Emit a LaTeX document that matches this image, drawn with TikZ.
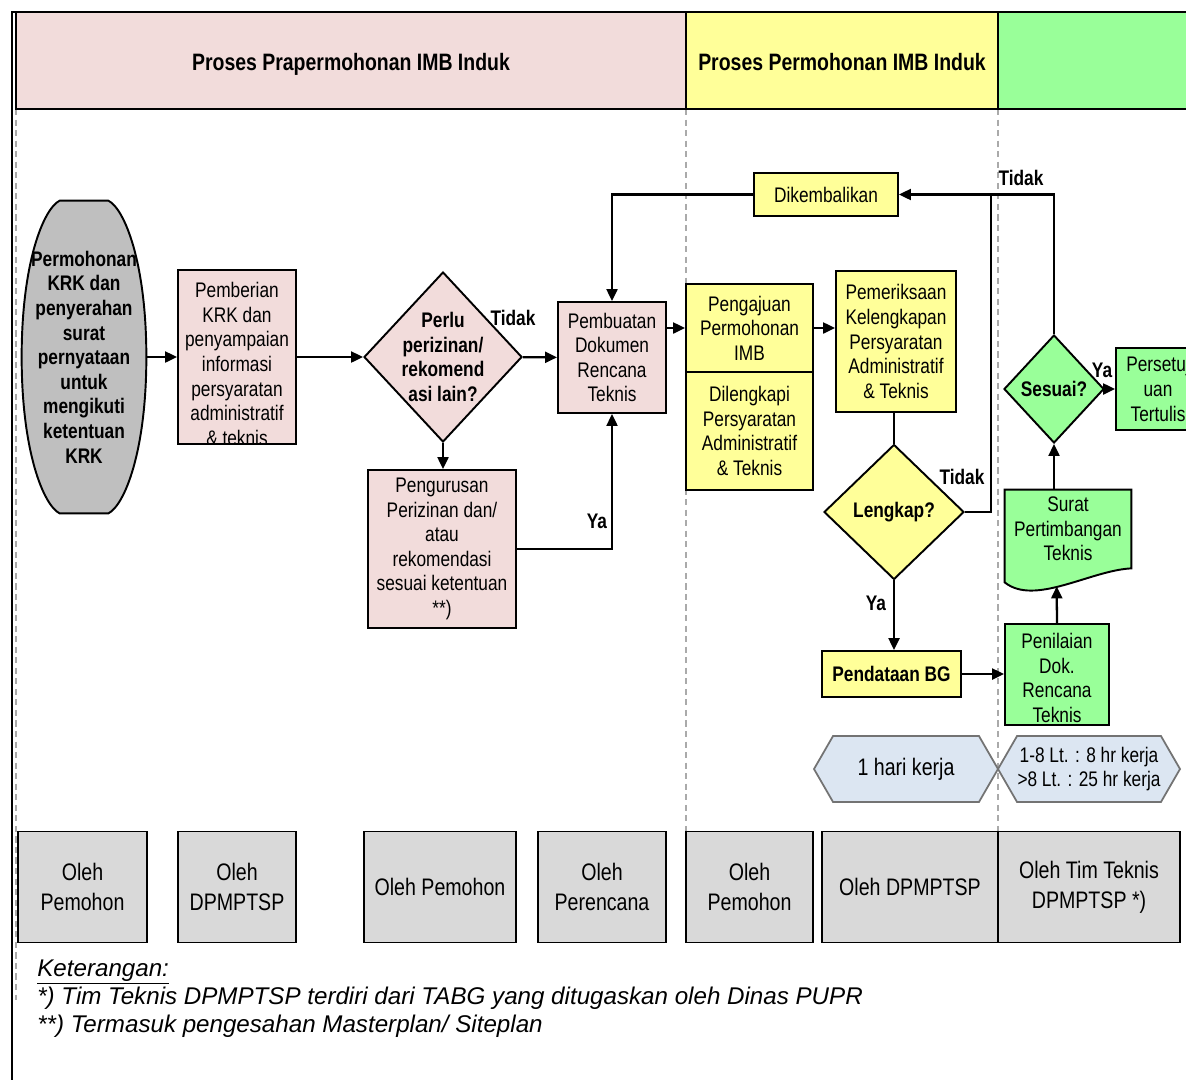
\documentclass[tikz,border=0pt]{standalone}
\usepackage{fontspec}
\setmainfont{Liberation Sans}[FakeStretch=0.82]
\newfontfamily\ketfont{Liberation Sans}
\usepackage{tikz}
\usetikzlibrary{shapes.geometric,shapes.symbols,arrows.meta,positioning,calc,backgrounds}
\definecolor{pra}{RGB}{242,220,219}
\definecolor{imb}{RGB}{255,255,153}
\definecolor{tek}{RGB}{153,255,153}
\definecolor{term}{RGB}{191,191,191}
\definecolor{oleh}{RGB}{217,217,217}
\definecolor{hari}{RGB}{220,230,242}
\definecolor{lanegray}{RGB}{170,170,170}
\tikzset{
  sz/.style 2 args={minimum width=#1*0.02cm,minimum height=#2*0.02cm},
  box/.style={draw,line width=1.1pt,align=center,inner sep=0pt},
  dec/.style={draw,diamond,line width=1.1pt,inner sep=0pt},
  hdr/.style={draw,line width=1.1pt,inner sep=0pt,text height=11.4pt,text depth=0pt,font=\fontsize{13.5}{16}\selectfont\bfseries},
  actor/.style={box,fill=oleh,font=\fontsize{13.6}{17}\selectfont},
  hexa/.style={draw=black!55,fill=hari,line width=1pt,signal,signal to=east and west,signal pointer angle=120,align=center,inner sep=0pt},
  arr/.style={line width=1.3pt,-{Triangle[length=2.4mm,width=2.2mm]}},
  lnk/.style={line width=1.3pt},
  lbl/.style={font=\bfseries,inner sep=0pt},
  lanedash/.style={draw=lanegray,line width=0.9pt,dash pattern=on 3.5pt off 2.5pt},
  ket/.style={anchor=west,inner sep=0pt,font=\ketfont\fontsize{13.75}{16}\selectfont\itshape}
}

\begin{document}
\fontsize{12}{14}\selectfont
\begin{tikzpicture}[x=0.02cm,y=-0.02cm]
\useasboundingbox (0,0) rectangle (1186,1079);
% lanes and frame
\foreach \x/\y in {16/1000,686/831,998/831}
  \draw[lanedash] (\x,109) -- (\x,\y);
\draw[line width=1.1pt] (12,1100) -- (12,12) -- (1200,12);
\node[hdr,fill=pra,sz={670}{97}] (hpra) at (351,60.5) {Proses Prapermohonan IMB Induk};
\node[hdr,fill=imb,sz={312}{97}] (himb) at (842,60.5) {Proses Permohonan IMB Induk};
\node[hdr,fill=tek,sz={210}{97}] (htek) at (1103,60.5) {};

% pra-permohonan
\node[align=center,font=\bfseries,sz={124}{312}] (mohon) at (84,357) {Permohonan\\KRK dan\\penyerahan\\surat\\pernyataan\\untuk\\mengikuti\\ketentuan\\KRK};
\begin{scope}[on background layer]
\draw[line width=1.1pt,fill=term] ($(mohon.north west)+(38,0)$) -- ($(mohon.north east)+(-38,0)$)
  .. controls ($(mohon.north east)+(-22,8)$) and ($(mohon.east)+(0,-95)$) .. (mohon.east)
  .. controls ($(mohon.east)+(0,95)$) and ($(mohon.south east)+(-22,-8)$) .. ($(mohon.south east)+(-38,0)$)
  -- ($(mohon.south west)+(38,0)$)
  .. controls ($(mohon.south west)+(22,-8)$) and ($(mohon.west)+(0,95)$) .. (mohon.west)
  .. controls ($(mohon.west)+(0,-95)$) and ($(mohon.north west)+(22,8)$) .. ($(mohon.north west)+(38,0)$) -- cycle;
\end{scope}
\node[box,fill=pra,sz={118}{174},path picture={
  \node[draw=none,fill=none,align=center,inner sep=0pt] at ([yshift=-0.14cm]path picture bounding box.center)
    {Pemberian\\KRK dan\\penyampaian\\informasi\\persyaratan\\administratif\\\& teknis};}] (pkrk) at (237,357) {};
\node[dec,fill=pra,sz={158}{170},label={[lbl,align=center]center:{Perlu\\perizinan/\\rekomend\\asi lain?}}] (perlu) at (443,357) {};
\node[box,fill=pra,sz={148}{158}] (urus) at (442,549) {Pengurusan\\Perizinan dan/\\atau\\rekomendasi\\sesuai ketentuan\\**)};
\node[box,fill=pra,sz={108}{111}] (buat) at (612,357.5) {Pembuatan\\Dokumen\\Rencana\\Teknis};

% permohonan
\node[box,fill=imb,sz={144}{43}] (kembali) at (826,194.5) {Dikembalikan};
\node[box,fill=imb,sz={127}{88}] (ajuan) at (749.5,328) {Pengajuan\\Permohonan\\IMB};
\node[box,fill=imb,sz={127}{118}] (lengkapi) at (749.5,431) {Dilengkapi\\Persyaratan\\Administratif\\\& Teknis};
\node[box,fill=imb,sz={120}{141}] (periksa) at (896,341.5) {Pemeriksaan\\Kelengkapan\\Persyaratan\\Administratif\\\& Teknis};
\node[dec,fill=imb,sz={140}{135},label={[lbl]center:Lengkap?}] (lengkap) at (894,512) {};
\node[box,fill=imb,sz={139}{46},font=\bfseries] (data) at (891.5,674) {Pendataan BG};

% tim teknis
\node[box,fill=tek,sz={104}{101},path picture={
  \node[draw=none,fill=none,align=center,inner sep=0pt] at ([yshift=-0.07cm]path picture bounding box.center)
    {Penilaian\\Dok.\\Rencana\\Teknis};}] (nilai) at (1057,674.5) {};
\node[align=center,inner sep=0pt,sz={126}{78}] (surat) at (1068,529) {Surat\\Pertimbangan\\Teknis};
\begin{scope}[on background layer]
\draw[line width=1.1pt,fill=tek] (surat.north west) -- (surat.north east) -- (surat.south east)
  .. controls ($(surat.south east)+(-41,2)$) and ($(surat.south west)+(30,38)$) .. ($(surat.south west)+(0,14)$) -- cycle;
\end{scope}
\coordinate (suratb) at ($(surat.south west)+(52,18)$);
\node[dec,fill=tek,sz={100}{108},label={[lbl]center:Sesuai?}] (sesuai) at (1054,389) {};
\node[box,fill=tek,sz={84}{82}] (setuju) at (1158,389) {Persetuj\\uan\\Tertulis};

% durations
\node[hexa,sz={184}{66},font=\fontsize{13.6}{16}\selectfont] (hari1) at (906,769) {1 hari kerja};
\node[hexa,sz={182}{66}] (hari2) at (1089,769) {1-8 Lt. : 8 hr kerja\\>8 Lt. : 25 hr kerja};

% actors
\foreach \x/\w/\who [count=\i] in {82.5/129/{Oleh\\Pemohon},237/118/{Oleh\\DPMPTSP},440/152/{Oleh Pemohon},
    602/128/{Oleh\\Perencana},749.5/127/{Oleh\\Pemohon},910/176/{Oleh DPMPTSP},1089/182/{Oleh Tim Teknis\\DPMPTSP *)}}
  \node[actor,sz={\w}{111}] (oleh\i) at (\x,887) {\who};

% connectors
\coordinate (ret) at (kembali.east -| 991,0);
\draw[arr] (mohon) -- (pkrk);
\draw[arr] (pkrk) -- (perlu);
\draw[arr] (perlu) -- (buat);
\draw[arr] (perlu.south) -- (perlu.south |- urus.north);
\draw[arr] (urus.east) -| (buat.south);
\draw[arr] (kembali.west) -| (buat.north);
\draw[arr] (buat.east |- ajuan.west) -- (ajuan.west);
\draw[arr] (ajuan.east) -- (ajuan.east -| periksa.west);
\draw[lnk] (periksa.south -| lengkap.north) -- (lengkap.north);
\draw[arr] (lengkap.east) -| (ret) -- (kembali.east);
\draw[arr] (lengkap.south) -- (lengkap.south |- data.north);
\draw[arr] (data.east) -- (data.east -| nilai.west);
\draw[arr] (nilai.north) -- (suratb);
\draw[arr] (surat.north -| sesuai.south) -- (sesuai.south);
\draw[lnk] (sesuai.north) |- (ret);
\draw[arr] (sesuai.east) -- (sesuai.east -| setuju.west);
\node[lbl] (tidak1) at (513,318) {Tidak};
\node[lbl] (ya1) at (597,521) {Ya};
\node[lbl] (tidak2) at (962,477) {Tidak};
\node[lbl] (ya2) at (876,603) {Ya};
\node[lbl] (tidak3) at (1021,178) {Tidak};
\node[lbl] (ya3) at (1102,370) {Ya};

% notes
\node[ket] (ket0) at (37,972) {\underline{Keterangan:}};
\node[ket] (ket1) at (37,998) {*) Tim Teknis DPMPTSP terdiri dari TABG yang ditugaskan oleh Dinas PUPR};
\node[ket] (ket2) at (37,1026) {**) Termasuk pengesahan Masterplan/ Siteplan};
\end{tikzpicture}
\end{document}
